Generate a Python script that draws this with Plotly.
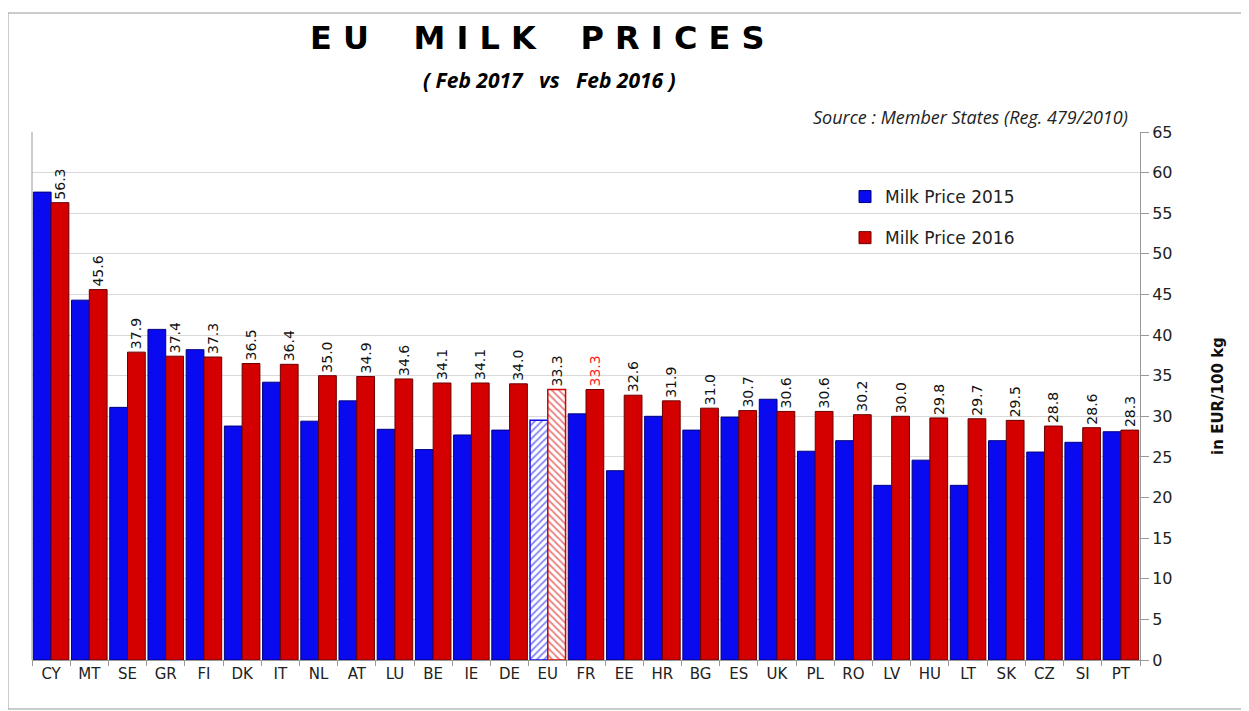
import plotly.graph_objects as go

countries = ["CY", "MT", "SE", "GR", "FI", "DK", "IT", "NL", "AT", "LU", "BE", "IE", "DE", "EU",
             "FR", "EE", "HR", "BG", "ES", "UK", "PL", "RO", "LV", "HU", "LT", "SK", "CZ", "SI", "PT"]
price_2015 = [57.6, 44.3, 31.1, 40.7, 38.2, 28.8, 34.2, 29.4, 31.9, 28.4, 25.9, 27.7, 28.3, 29.5,
              30.3, 23.3, 30.0, 28.3, 29.9, 32.1, 25.7, 27.0, 21.5, 24.6, 21.5, 27.0, 25.6, 26.8, 28.1]
price_2016 = [56.3, 45.6, 37.9, 37.4, 37.3, 36.5, 36.4, 35.0, 34.9, 34.6, 34.1, 34.1, 34.0, 33.3,
              33.3, 32.6, 31.9, 31.0, 30.7, 30.6, 30.6, 30.2, 30.0, 29.8, 29.7, 29.5, 28.8, 28.6, 28.3]
y_ticks = list(range(0, 66, 5))

BLUE = "#0a0af0"
RED = "#d40000"

is_eu = [c == "EU" for c in countries]
label_colors = ["#ff2020" if c == "FR" else "#111111" for c in countries]

y15_main = [None if e else v for v, e in zip(price_2015, is_eu)]
y16_main = [None if e else v for v, e in zip(price_2016, is_eu)]
eu_x = [c for c, e in zip(countries, is_eu) if e]
eu_15 = [v for v, e in zip(price_2015, is_eu) if e]
eu_16 = [v for v, e in zip(price_2016, is_eu) if e]

fig = go.Figure()
fig.add_trace(go.Bar(
    x=countries, y=y15_main, name="Milk Price 2015", legendgroup="a", offsetgroup="a",
    marker=dict(color=BLUE, line=dict(color="#00007a", width=1)),
))
fig.add_trace(go.Bar(
    x=countries, y=y16_main, name="Milk Price 2016", legendgroup="b", offsetgroup="b",
    marker=dict(color=RED, line=dict(color="#6a0000", width=1)),
    text=[f"{v:.1f}" for v in price_2016], textposition="outside", textangle=-90,
    constraintext="none",
    textfont=dict(family="DejaVu Sans", size=14, color=label_colors),
    cliponaxis=False,
))
fig.add_trace(go.Bar(
    x=eu_x, y=eu_15, name="Milk Price 2015", legendgroup="a", offsetgroup="a", showlegend=False,
    marker=dict(color="#ffffff", line=dict(color=BLUE, width=1.5),
                pattern=dict(shape="/", fgcolor=BLUE, bgcolor="#ffffff", size=5, solidity=0.35)),
))
fig.add_trace(go.Bar(
    x=eu_x, y=eu_16, name="Milk Price 2016", legendgroup="b", offsetgroup="b", showlegend=False,
    marker=dict(color="#ffffff", line=dict(color=RED, width=1.5),
                pattern=dict(shape="\\", fgcolor=RED, bgcolor="#ffffff", size=5, solidity=0.35)),
    text=[f"{v:.1f}" for v in eu_16], textposition="outside", textangle=-90,
    constraintext="none",
    textfont=dict(family="DejaVu Sans", size=14, color="#111111"),
    cliponaxis=False,
))

# browser body has an 8px margin; map reference pixel coords accordingly
OFF = 8
W, H = 1249 - OFF, 711 - OFF
L, T = 32 - OFF, 132 - OFF
R = W - (1140 - OFF)
B = H - (660 - OFF)
pw, ph = W - L - R, H - T - B

def px(x):
    return (x - OFF - L) / pw

def py(y):
    return (H - B - (y - OFF)) / ph

fig.update_layout(
    width=W, height=H,
    margin=dict(l=L, r=R, t=T, b=B, autoexpand=False),
    paper_bgcolor="white", plot_bgcolor="white",
    barmode="group", bargap=0.07, bargroupgap=0.0,
    font=dict(family="DejaVu Sans", color="#222222"),
    showlegend=True,
    legend=dict(x=px(845), y=py(179), xanchor="left", yanchor="top",
                font=dict(family="DejaVu Sans", size=17, color="#222222"),
                bgcolor="rgba(0,0,0,0)", traceorder="grouped", tracegroupgap=16,
                itemwidth=30),
    xaxis=dict(
        type="category", tickson="boundaries", ticks="outside", ticklen=5,
        tickcolor="#999999", showline=True, linecolor="#999999", linewidth=1,
        tickfont=dict(family="DejaVu Sans", size=15, color="#222222"),
        showgrid=False, automargin=False, categoryorder="array", categoryarray=countries,
    ),
    yaxis=dict(
        side="right", range=[0, 65], tickvals=y_ticks, ticks="outside", ticklen=8,
        tickcolor="#999999", showline=True, linecolor="#999999", linewidth=1,
        gridcolor="#d9d9d9", gridwidth=1, automargin=False,
        tickfont=dict(family="DejaVu Sans", size=16, color="#222222"),
        title=dict(text="<b>in EUR/100 kg</b>", standoff=40,
                   font=dict(family="DejaVu Sans", size=15, color="#111111")),
        zeroline=False,
    ),
    shapes=[
        dict(type="rect", xref="paper", yref="paper", x0=px(8), x1=px(1245), y0=py(709), y1=py(13),
             line=dict(color="#999999", width=1), fillcolor="rgba(0,0,0,0)", layer="below"),
        dict(type="line", xref="paper", yref="paper", x0=0, x1=0, y0=0, y1=1,
             line=dict(color="#999999", width=1)),
    ],
    annotations=[
        dict(text="<b>E U    M I L K    P R I C E S</b>", xref="paper", yref="paper",
             x=px(537), y=py(38), xanchor="center", yanchor="middle", showarrow=False,
             font=dict(family="DejaVu Sans", size=32, color="#000000")),
        dict(text="<b><i>( Feb 2017   vs   Feb 2016 )</i></b>", xref="paper", yref="paper",
             x=px(549), y=py(80), xanchor="center", yanchor="middle", showarrow=False,
             font=dict(family="Open Sans", size=21, color="#000000")),
        dict(text="<i>Source : Member States (Reg. 479/2010)</i>", xref="paper", yref="paper",
             x=px(1130), y=py(117), xanchor="right", yanchor="middle", showarrow=False,
             font=dict(family="Open Sans", size=18, color="#222222")),
    ],
)

fig.write_html("out.html")
